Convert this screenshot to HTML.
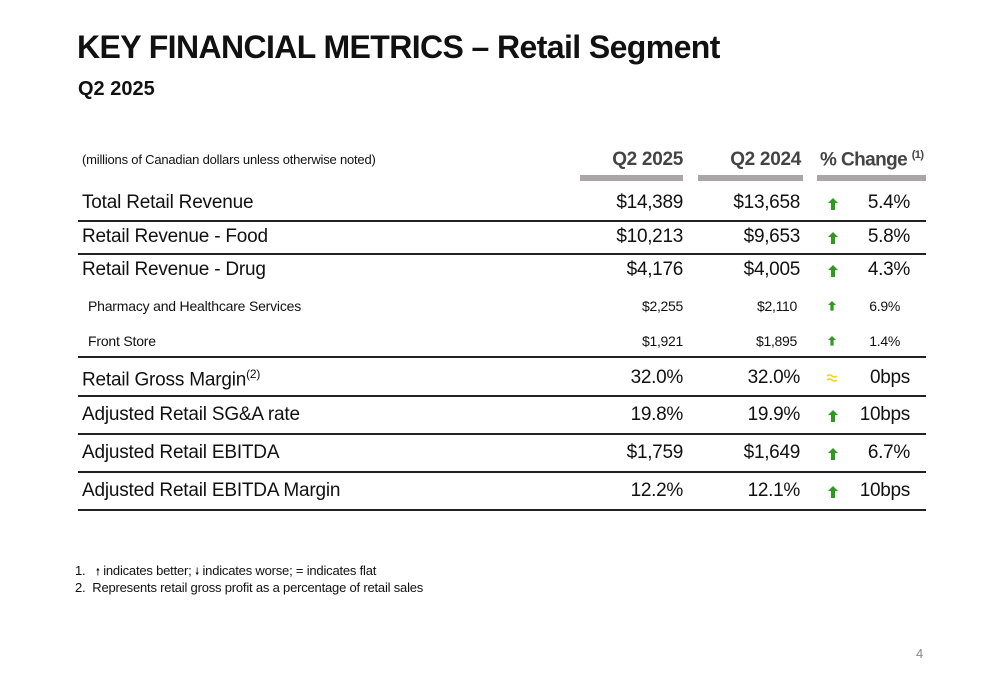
<!DOCTYPE html>
<html><head><meta charset="utf-8"><style>
body{margin:0;width:1000px;height:685px;background:#fff;position:relative;overflow:hidden;font-family:"Liberation Sans",sans-serif;color:#111}
.a{position:absolute;white-space:nowrap}
.line{position:absolute;left:78px;width:848px;height:1.5px;background:#222}
.bar{position:absolute;top:175px;height:6px;background:#a8a6a6}
</style></head><body>
<div class="a" style="left:77px;top:29px;font-size:32px;font-weight:bold;letter-spacing:-0.6px">KEY FINANCIAL METRICS – Retail Segment</div>
<div class="a" style="left:78px;top:78px;font-size:20px;font-weight:bold">Q2 2025</div>
<div class="a" style="left:82px;top:152px;font-size:13px;letter-spacing:-0.2px">(millions of Canadian dollars unless otherwise noted)</div>
<div class="a" style="right:317px;top:149px;font-size:19px;font-weight:bold;color:#444;letter-spacing:-0.3px">Q2 2025</div>
<div class="a" style="right:199px;top:149px;font-size:19px;font-weight:bold;color:#444;letter-spacing:-0.3px">Q2 2024</div>
<div class="a" style="left:820px;top:149px;font-size:19px;font-weight:bold;color:#444;letter-spacing:-0.6px">% Change <sup style="font-size:11px">(1)</sup></div>
<div class="bar" style="left:580px;width:103px"></div>
<div class="bar" style="left:698px;width:105px"></div>
<div class="bar" style="left:817px;width:109px"></div>
<div id="rows"></div>
<div class="a" style="left:75px;top:563px;font-size:13px;letter-spacing:-0.2px">1.&nbsp;&nbsp;&nbsp;<span style="font-size:10px">🠕</span> indicates better; <span style="font-size:10px">🠗</span> indicates worse; = indicates flat</div>
<div class="a" style="left:75px;top:580px;font-size:13px;letter-spacing:-0.2px">2.&nbsp;&nbsp;Represents retail gross profit as a percentage of retail sales</div>
<div class="a" style="left:916px;top:646px;font-size:13px;color:#888">4</div>
<script>
const labels=["Total Retail Revenue","Retail Revenue - Food","Retail Revenue - Drug","Pharmacy and Healthcare Services","Front Store","Retail Gross Margin<sup style='font-size:12px'>(2)</sup>","Adjusted Retail SG&amp;A rate","Adjusted Retail EBITDA","Adjusted Retail EBITDA Margin"];
const q2025=["$14,389","$10,213","$4,176","$2,255","$1,921","32.0%","19.8%","$1,759","12.2%"];
const q2024=["$13,658","$9,653","$4,005","$2,110","$1,895","32.0%","19.9%","$1,649","12.1%"];
const changes=["5.4%","5.8%","4.3%","6.9%","1.4%","0bps","10bps","6.7%","10bps"];
const dirs=["up","up","up","up","up","flat","up","up","up"];
const small=[false,false,false,true,true,false,false,false,false];
const centers=[203,237,270,306,341,378,415,453,491];
const lineYs=[220,253,356,395,433,471,509];
const c=document.getElementById('rows');
labels.forEach((l,i)=>{
  const fs=small[i]?14:19, t=centers[i]-fs*0.6;
  const mk=(html,style,name)=>{const d=document.createElement('div');d.className='a';d.innerHTML=html;d.style.cssText=style;
  
  
  c.appendChild(d);};
  mk(l,`left:${small[i]?88:82}px;top:${t}px;font-size:${fs}px;letter-spacing:-0.2px`,'row-label');
  mk(q2025[i],`right:317px;top:${t}px;font-size:${fs}px;letter-spacing:-0.3px`,'value-q2-2025');
  mk(q2024[i],`right:${small[i]?203:200}px;top:${t}px;font-size:${fs}px;letter-spacing:-0.3px`,'value-q2-2024');
  mk(changes[i],`right:${small[i]?100:90}px;top:${t}px;font-size:${fs}px;letter-spacing:-0.3px`,'value-change');
  const sz=small[i]?8:10;
  const icon=dirs[i]=='up'
    ?`<svg width="10" height="12" viewBox="0 0 10 12"><polygon points="5,0 10,5 7,5 7,12 3,12 3,5 0,5" fill="#2e9a1e" transform="scale(${sz/10})"/></svg>`
    :`<svg width="12" height="10" viewBox="0 0 12 10"><path d="M1 3 Q3.5 1 6 3 T11 3 M1 7 Q3.5 5 6 7 T11 7" stroke="#f0d81e" stroke-width="1.6" fill="none"/></svg>`;
  mk(icon,`left:${dirs[i]=='up'?828:826}px;top:${centers[i]-5}px;line-height:0`,'change-indicator');
});
lineYs.forEach(y=>{const d=document.createElement('div');d.className='line';d.style.top=y+'px';


c.appendChild(d);});
</script>
</body></html>
